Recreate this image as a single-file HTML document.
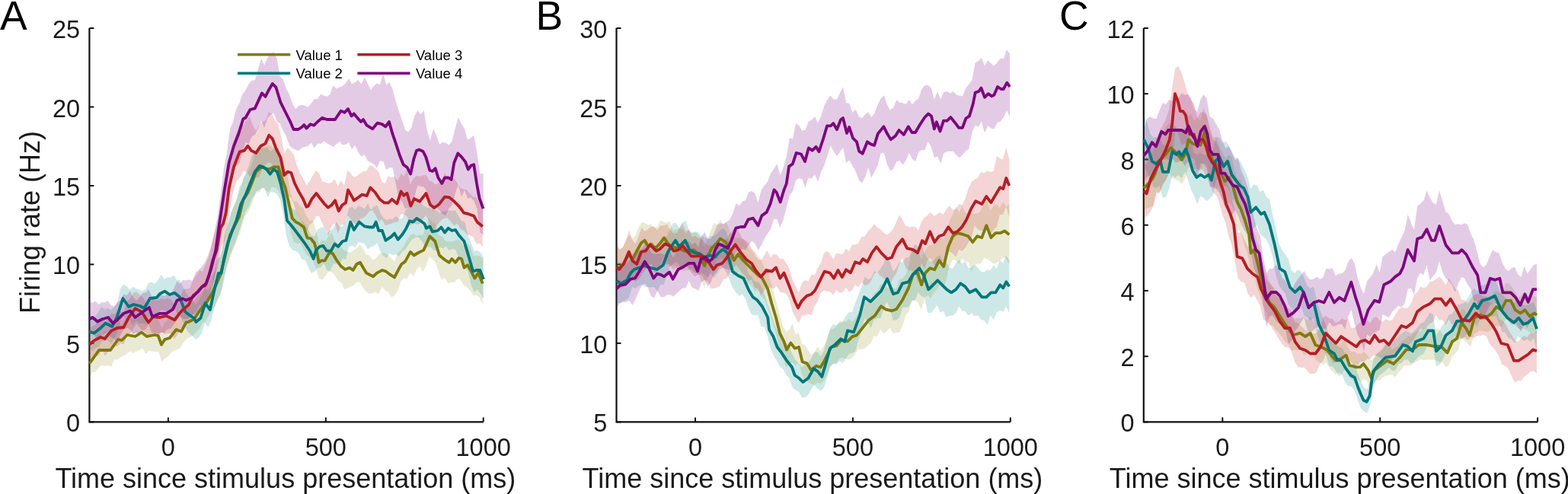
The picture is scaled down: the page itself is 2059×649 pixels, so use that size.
<!DOCTYPE html>
<html><head><meta charset="utf-8"><title>Firing rate figure</title>
<style>
html,body{margin:0;padding:0;background:#fff;}
body{width:2059px;height:649px;overflow:hidden;}
svg{display:block;}
text{font-family:"Liberation Sans",Arial,Helvetica,sans-serif;fill:#1a1a1a;}
.tk{font-size:32.5px;}
.xl{font-size:36px;}
.yl{font-size:36px;}
.pl{font-size:53.5px;fill:#000;}
.lg{font-size:18.5px;fill:#000;}
</style></head><body>
<svg width="2059" height="649" viewBox="0 0 2059 649">
<rect width="2059" height="649" fill="#fff"/>
<path d="M117.4,37 V554.4 H634.7" fill="none" stroke="#111" stroke-width="2.2"/>
<path d="M117.4,554.4 h6" stroke="#111" stroke-width="2"/>
<text x="105.2" y="567.4" text-anchor="end" class="tk">0</text>
<path d="M117.4,450.9 h6" stroke="#111" stroke-width="2"/>
<text x="105.2" y="463.9" text-anchor="end" class="tk">5</text>
<path d="M117.4,347.4 h6" stroke="#111" stroke-width="2"/>
<text x="105.2" y="360.4" text-anchor="end" class="tk">10</text>
<path d="M117.4,244 h6" stroke="#111" stroke-width="2"/>
<text x="105.2" y="257" text-anchor="end" class="tk">15</text>
<path d="M117.4,140.5 h6" stroke="#111" stroke-width="2"/>
<text x="105.2" y="153.5" text-anchor="end" class="tk">20</text>
<path d="M117.4,37 h6" stroke="#111" stroke-width="2"/>
<text x="105.2" y="50" text-anchor="end" class="tk">25</text>
<path d="M220.9,554.4 v-6" stroke="#111" stroke-width="2"/>
<text x="220.9" y="598.6" text-anchor="middle" class="tk">0</text>
<path d="M427.8,554.4 v-6" stroke="#111" stroke-width="2"/>
<text x="427.8" y="598.6" text-anchor="middle" class="tk">500</text>
<path d="M634.7,554.4 v-6" stroke="#111" stroke-width="2"/>
<text x="634.7" y="598.6" text-anchor="middle" class="tk">1000</text>
<text x="72.4" y="641.2" class="xl">Time since stimulus presentation (ms)</text>
<path d="M117.2,456 L121.3,450.7 L125.5,442.1 L129.6,438 L133.7,440.7 L137.9,434.6 L142,439.4 L146.1,434.5 L150.3,431.3 L154.4,419.2 L158.5,426.3 L162.7,418.5 L166.8,420.2 L170.9,416.6 L175.1,419.8 L179.2,419.6 L183.3,416 L187.5,413.4 L191.6,420.8 L195.7,422.7 L199.9,415.6 L204,414.6 L208.1,419.5 L212.3,431.2 L216.4,423.9 L220.5,419.6 L224.7,417 L228.8,416.1 L232.9,409.2 L237.1,413.9 L241.2,408.1 L245.3,402.4 L249.4,397.1 L253.6,397.4 L257.7,392.1 L261.8,385.8 L266,382.4 L270.1,377.2 L274.2,365.1 L278.4,361.2 L282.5,355.3 L286.6,339.7 L290.8,331.1 L294.9,308.5 L299,296.4 L303.2,280.1 L307.3,269.4 L311.4,260 L315.6,248.4 L319.7,233.7 L323.8,227.4 L328,223.1 L332.1,212 L336.2,194.8 L340.4,192.2 L344.5,191.4 L348.6,193.2 L352.8,190.2 L356.9,192.2 L361,195.9 L365.2,194.1 L369.3,208.4 L373.4,215.4 L377.6,232.4 L381.7,254.2 L385.8,265.5 L390,264.5 L394.1,270.6 L398.2,273.2 L402.4,283.5 L406.5,290.2 L410.6,289.1 L414.8,301.1 L418.9,321.5 L423,314.5 L427.2,317.3 L431.3,310.4 L435.4,305.5 L439.6,315.7 L443.7,320.2 L447.8,324 L452,329 L456.1,331.2 L460.2,331.6 L464.4,328.6 L468.5,325.9 L472.6,321 L476.8,326.2 L480.9,334.5 L485,334.9 L489.2,341.4 L493.3,339.6 L497.4,334.4 L501.6,332.1 L505.7,332.8 L509.8,335.7 L513.9,339.3 L518.1,343.6 L522.2,332 L526.3,329.3 L530.5,323 L534.6,315.2 L538.7,308.9 L542.9,307 L547,309.8 L551.1,309.1 L555.3,309.1 L559.4,297.2 L563.5,286.8 L567.7,292.1 L571.8,293 L575.9,309.1 L580.1,310.3 L584.2,315.9 L588.3,317.4 L592.5,317.2 L596.6,316.8 L600.7,314.6 L604.9,316.6 L609,324.3 L613.1,319.2 L617.3,323.4 L621.4,335.4 L625.5,336.6 L629.7,336.2 L633.8,339.6 L633.8,400.4 L629.7,390.7 L625.5,387.7 L621.4,388.6 L617.3,381.8 L613.1,377.3 L609,375 L604.9,367.5 L600.7,366.5 L596.6,370.8 L592.5,370.7 L588.3,372.4 L584.2,364.8 L580.1,367.8 L575.9,357.2 L571.8,344.8 L567.7,340.3 L563.5,337.1 L559.4,349.7 L555.3,357.1 L551.1,349.7 L547,354.3 L542.9,363.4 L538.7,357.9 L534.6,365.9 L530.5,365.6 L526.3,369.9 L522.2,382 L518.1,388.7 L513.9,389.9 L509.8,383.8 L505.7,381.8 L501.6,376.8 L497.4,386.8 L493.3,383.9 L489.2,385 L485,386.6 L480.9,383.2 L476.8,378.4 L472.6,370.4 L468.5,370.8 L464.4,375.2 L460.2,376.6 L456.1,378.8 L452,379.8 L447.8,371 L443.7,368.4 L439.6,361.8 L435.4,357.6 L431.3,356.7 L427.2,363.2 L423,367.6 L418.9,365.9 L414.8,352.6 L410.6,341.2 L406.5,337.8 L402.4,335 L398.2,326.5 L394.1,319.1 L390,320.3 L385.8,317.4 L381.7,305.7 L377.6,279.4 L373.4,271.2 L369.3,257.3 L365.2,250.5 L361,246.2 L356.9,245.3 L352.8,252.7 L348.6,250 L344.5,245.8 L340.4,253.2 L336.2,250.4 L332.1,264.9 L328,274.8 L323.8,281.4 L319.7,287.7 L315.6,305.8 L311.4,313.2 L307.3,325.6 L303.2,335.2 L299,347.4 L294.9,361.8 L290.8,380.2 L286.6,393.3 L282.5,401.8 L278.4,408.7 L274.2,414.1 L270.1,422.6 L266,424.3 L261.8,432.6 L257.7,436 L253.6,441.1 L249.4,443 L245.3,444.9 L241.2,449.6 L237.1,455.9 L232.9,459.2 L228.8,460.4 L224.7,463.6 L220.5,468.2 L216.4,471.3 L212.3,475 L208.1,462.1 L204,462 L199.9,461.7 L195.7,460.4 L191.6,465.1 L187.5,457.7 L183.3,459.9 L179.2,461.6 L175.1,464 L170.9,461.5 L166.8,464.4 L162.7,467.2 L158.5,468.9 L154.4,472.5 L150.3,471.9 L146.1,482.1 L142,480.1 L137.9,480.9 L133.7,480 L129.6,482.9 L125.5,488.9 L121.3,488.7 L117.2,498.1Z" fill="#8a8a10" fill-opacity="0.18" stroke="none"/>
<path d="M117,413 L121.1,417 L125.2,414.9 L129.3,409.8 L133.4,403.1 L137.6,406.5 L141.7,404.8 L145.8,407.2 L149.9,403.5 L154,397.8 L158.1,378.9 L162.2,373.6 L166.3,375.9 L170.4,380.7 L174.6,376.7 L178.7,379.3 L182.8,380.6 L186.9,381.9 L191,380.3 L195.1,371.6 L199.2,370.7 L203.3,372.8 L207.4,367.7 L211.6,360.6 L215.7,367 L219.8,364.3 L223.9,364.4 L228,361.5 L232.1,367.7 L236.2,368 L240.3,377 L244.4,384.8 L248.6,391.2 L252.7,392.6 L256.8,401.1 L260.9,395.6 L265,387.1 L269.1,378.2 L273.2,382 L277.3,374.7 L281.4,355.9 L285.6,339.7 L289.7,337.3 L293.8,316.7 L297.9,296.6 L302,284.2 L306.1,273.1 L310.2,264.7 L314.3,245.9 L318.4,238.8 L322.6,227.6 L326.7,217.9 L330.8,204 L334.9,201.2 L339,192.4 L343.1,194.8 L347.2,194.2 L351.3,194 L355.4,199.2 L359.6,195.3 L363.7,199.3 L367.8,208.6 L371.9,228.8 L376,256.8 L380.1,271.1 L384.2,274.3 L388.3,275.7 L392.4,284.4 L396.6,290.3 L400.7,294.8 L404.8,301.5 L408.9,309.4 L413,310.4 L417.1,301.5 L421.2,299.3 L425.3,298 L429.4,307.1 L433.6,302.4 L437.7,300.2 L441.8,291.3 L445.9,298.2 L450,296.9 L454.1,289.1 L458.2,273.2 L462.3,271.4 L466.4,275.6 L470.6,270.3 L474.7,272 L478.8,274.4 L482.9,267.3 L487,275.7 L491.1,271.3 L495.2,269.8 L499.3,279.5 L503.4,286.3 L507.6,288.9 L511.7,287.7 L515.8,287.7 L519.9,283.9 L524,287.3 L528.1,286.9 L532.2,276.8 L536.3,272.1 L540.4,266 L544.6,267 L548.7,261.2 L552.8,267.2 L556.9,270.5 L561,272.9 L565.1,272.3 L569.2,275.5 L573.3,276.3 L577.4,279.9 L581.6,277.5 L585.7,277.5 L589.8,276.2 L593.9,276.9 L598,276.6 L602.1,284.3 L606.2,290.2 L610.3,291.5 L614.4,307.8 L618.6,319.2 L622.7,329.8 L626.8,328.9 L630.9,331.5 L635,338.1 L635,393 L630.9,385.8 L626.8,380.5 L622.7,383.5 L618.6,374.5 L614.4,356.2 L610.3,349.7 L606.2,338.7 L602.1,337.5 L598,328.3 L593.9,326.7 L589.8,329.1 L585.7,324.1 L581.6,326.5 L577.4,324.5 L573.3,329.5 L569.2,328.8 L565.1,324.3 L561,324.7 L556.9,321.4 L552.8,315.6 L548.7,311.3 L544.6,312.5 L540.4,315.1 L536.3,321.4 L532.2,328.1 L528.1,330.2 L524,336.8 L519.9,333.7 L515.8,335.6 L511.7,332.8 L507.6,339.3 L503.4,336.1 L499.3,330.2 L495.2,318.7 L491.1,323.3 L487,324 L482.9,327.8 L478.8,320 L474.7,318.9 L470.6,318.1 L466.4,325.6 L462.3,322.4 L458.2,324.1 L454.1,340.9 L450,339.9 L445.9,346.9 L441.8,346.5 L437.7,346.6 L433.6,355.9 L429.4,355 L425.3,346.1 L421.2,351.2 L417.1,352 L413,356.7 L408.9,359.1 L404.8,350.7 L400.7,341.8 L396.6,340.8 L392.4,332.8 L388.3,329.5 L384.2,328.7 L380.1,323.4 L376,310.3 L371.9,281.2 L367.8,262.5 L363.7,254.9 L359.6,252.8 L355.4,251.9 L351.3,259.4 L347.2,246.4 L343.1,248.1 L339,249.7 L334.9,256.6 L330.8,260.8 L326.7,271.9 L322.6,278.1 L318.4,291.2 L314.3,302.8 L310.2,316.4 L306.1,325.2 L302,336.2 L297.9,349.2 L293.8,369.1 L289.7,387.2 L285.6,393.2 L281.4,404.5 L277.3,420.8 L273.2,430.4 L269.1,423.6 L265,437.5 L260.9,443.9 L256.8,445.7 L252.7,441.1 L248.6,438.2 L244.4,431.9 L240.3,423 L236.2,414.2 L232.1,411.2 L228,403.2 L223.9,408.8 L219.8,410.7 L215.7,407.9 L211.6,406.8 L207.4,412.8 L203.3,416 L199.2,413.7 L195.1,417.1 L191,425.9 L186.9,424.9 L182.8,425.1 L178.7,422.3 L174.6,427.8 L170.4,420.9 L166.3,421.6 L162.2,415.3 L158.1,423.8 L154,437.5 L149.9,445.3 L145.8,451.2 L141.7,447.3 L137.6,447.7 L133.4,448.7 L129.3,456 L125.2,457.6 L121.1,461.2 L117,456Z" fill="#0a8c8c" fill-opacity="0.2" stroke="none"/>
<path d="M117.2,432 L121.3,428.4 L125.5,426.7 L129.6,418.9 L133.7,418.4 L137.9,421.7 L142,419.5 L146.1,411.6 L150.3,412.9 L154.4,406.9 L158.5,409.5 L162.7,409.7 L166.8,395.2 L170.9,392.5 L175.1,384.4 L179.2,383.2 L183.3,387.2 L187.5,390.4 L191.6,396.6 L195.7,398.7 L199.9,392.7 L204,395.3 L208.1,393.9 L212.3,392.6 L216.4,393.4 L220.5,391.7 L224.7,393.4 L228.8,400.3 L232.9,394.6 L237.1,389.1 L241.2,379.9 L245.3,379.5 L249.4,378.7 L253.6,367.3 L257.7,362.2 L261.8,354.8 L266,356.8 L270.1,346.5 L274.2,337.3 L278.4,318.4 L282.5,304.4 L286.6,288.8 L290.8,266.9 L294.9,257.5 L299,226.2 L303.2,203.7 L307.3,184.6 L311.4,172.4 L315.6,169 L319.7,164.5 L323.8,157.7 L328,153.1 L332.1,165.5 L336.2,171.7 L340.4,163.7 L344.5,159.9 L348.6,158 L352.8,147.4 L356.9,149 L361,158.2 L365.2,162.4 L369.3,179.8 L373.4,202 L377.6,194.1 L381.7,198.3 L385.8,203.3 L390,217.5 L394.1,227.9 L398.2,234.5 L402.4,243.2 L406.5,238.3 L410.6,230.5 L414.8,223.9 L418.9,227.6 L423,238.2 L427.2,239.6 L431.3,240.9 L435.4,239.7 L439.6,235.5 L443.7,244.5 L447.8,237.3 L452,243.2 L456.1,223.4 L460.2,227.7 L464.4,232.5 L468.5,231.2 L472.6,228.2 L476.8,225.3 L480.9,225.1 L485,217.8 L489.2,217.8 L493.3,221.5 L497.4,226.6 L501.6,239.1 L505.7,241.2 L509.8,231.2 L513.9,233.1 L518.1,231.9 L522.2,237.6 L526.3,228 L530.5,231.2 L534.6,222.7 L538.7,243.1 L542.9,234 L547,231.1 L551.1,231.8 L555.3,230.6 L559.4,230.1 L563.5,237 L567.7,238.9 L571.8,242.6 L575.9,240.5 L580.1,237.8 L584.2,227.1 L588.3,234.8 L592.5,234.8 L596.6,234.4 L600.7,240.9 L604.9,247.3 L609,248.5 L613.1,249.7 L617.3,254.4 L621.4,258.8 L625.5,259.2 L629.7,267.4 L633.8,271.6 L633.8,324.6 L629.7,319.4 L625.5,320.5 L621.4,311.8 L617.3,309.1 L613.1,308 L609,303.1 L604.9,301.2 L600.7,293.8 L596.6,296.6 L592.5,291.9 L588.3,286.4 L584.2,286.6 L580.1,288.7 L575.9,293.6 L571.8,299.5 L567.7,305.7 L563.5,291 L559.4,283 L555.3,287.8 L551.1,294.4 L547,294.6 L542.9,292.8 L538.7,297 L534.6,284.6 L530.5,281.2 L526.3,281.6 L522.2,291.8 L518.1,291.7 L513.9,294.1 L509.8,294.9 L505.7,296.3 L501.6,288.1 L497.4,291.3 L493.3,282.9 L489.2,276.2 L485,277.6 L480.9,282.7 L476.8,286.2 L472.6,287.6 L468.5,295.7 L464.4,292.4 L460.2,287.8 L456.1,282.8 L452,295 L447.8,295.3 L443.7,307.5 L439.6,293 L435.4,296.7 L431.3,309.8 L427.2,301.5 L423,292.9 L418.9,283.5 L414.8,284.6 L410.6,292.1 L406.5,296 L402.4,305.4 L398.2,295.2 L394.1,288 L390,280.7 L385.8,268 L381.7,259.3 L377.6,256.4 L373.4,261.3 L369.3,243.5 L365.2,234.2 L361,224.2 L356.9,215.2 L352.8,213.1 L348.6,216.6 L344.5,221.3 L340.4,232.7 L336.2,233.9 L332.1,231 L328,231.6 L323.8,225.6 L319.7,224.9 L315.6,232.2 L311.4,237.3 L307.3,248.5 L303.2,265.7 L299,293.9 L294.9,316.5 L290.8,323.4 L286.6,348.6 L282.5,362.9 L278.4,373.2 L274.2,388.4 L270.1,396.6 L266,402.4 L261.8,400.6 L257.7,409.3 L253.6,413 L249.4,420.2 L245.3,426.5 L241.2,426.8 L237.1,431.6 L232.9,440.1 L228.8,445.6 L224.7,438.9 L220.5,437.6 L216.4,439.3 L212.3,436 L208.1,441 L204,441.1 L199.9,439.2 L195.7,444.4 L191.6,437.3 L187.5,435.1 L183.3,429.9 L179.2,425.6 L175.1,432.1 L170.9,438 L166.8,440.1 L162.7,452.4 L158.5,450.9 L154.4,454.8 L150.3,455.8 L146.1,454.9 L142,462.5 L137.9,467.8 L133.7,459.2 L129.6,467.2 L125.5,467.4 L121.3,474.1 L117.2,476.6Z" fill="#c8282d" fill-opacity="0.2" stroke="none"/>
<path d="M117.2,395.7 L121.3,398 L125.4,395.4 L129.5,400.2 L133.6,396.9 L137.7,397.6 L141.8,395 L145.9,401.4 L150.1,402 L154.2,397.1 L158.3,394.3 L162.4,386.2 L166.5,388 L170.6,381.9 L174.7,389.9 L178.8,394.9 L182.9,391 L187,384.9 L191.1,384.4 L195.2,380.3 L199.3,389.7 L203.4,390.2 L207.5,389.3 L211.6,387 L215.8,389 L219.9,386.3 L224,385.9 L228.1,380 L232.2,369.4 L236.3,372.5 L240.4,367.8 L244.5,368.4 L248.6,367.3 L252.7,369.2 L256.8,357.9 L260.9,355 L265,350.5 L269.1,344.2 L273.2,335.6 L277.3,323.3 L281.5,305.3 L285.6,284.8 L289.7,255.6 L293.8,222.6 L297.9,201 L302,169.4 L306.1,160.1 L310.2,142.7 L314.3,135.8 L318.4,124 L322.5,118.6 L326.6,110.6 L330.7,106.1 L334.8,105.1 L338.9,91.2 L343,76.6 L347.2,85.8 L351.3,75.9 L355.4,70.9 L359.5,67.7 L363.6,76.6 L367.7,100.4 L371.8,104.5 L375.9,116.6 L380,124.4 L384.1,136 L388.2,143.3 L392.3,139 L396.4,137.7 L400.5,139.1 L404.6,140.6 L408.8,135.7 L412.9,129.9 L417,130.3 L421.1,123.6 L425.2,125.6 L429.3,126.7 L433.4,123.9 L437.5,111.9 L441.6,116.6 L445.7,114.6 L449.8,112.9 L453.9,109.5 L458,103.1 L462.1,110.3 L466.2,108.3 L470.3,105 L474.5,110.6 L478.6,101.5 L482.7,109.6 L486.8,118 L490.9,112.9 L495,109.6 L499.1,111 L503.2,96.1 L507.3,111.8 L511.4,108 L515.5,117 L519.6,133.3 L523.7,145.5 L527.8,157.8 L531.9,170.3 L536,173.5 L540.2,167.8 L544.3,152.2 L548.4,145.2 L552.5,150.4 L556.6,145.3 L560.7,170.5 L564.8,184.8 L568.9,169.2 L573,177.6 L577.1,189.7 L581.2,187 L585.3,187.7 L589.4,190.6 L593.5,185.5 L597.6,169.2 L601.7,154 L605.9,162.4 L610,169.3 L614.1,184 L618.2,181.2 L622.3,177.5 L626.4,201.3 L630.5,228.6 L634.6,228 L634.6,308.8 L630.5,305.4 L626.4,274.5 L622.3,263.7 L618.2,259.5 L614.1,260.7 L610,250 L605.9,258.6 L601.7,242.4 L597.6,255.3 L593.5,269.8 L589.4,274.1 L585.3,283 L581.2,281.2 L577.1,276.7 L573,272.3 L568.9,277.1 L564.8,266 L560.7,252.1 L556.6,245.5 L552.5,245 L548.4,243.4 L544.3,259.2 L540.2,270.6 L536,272.6 L531.9,274.6 L527.8,264.4 L523.7,260.7 L519.6,240.5 L515.5,220.6 L511.4,220 L507.3,222.9 L503.2,212.1 L499.1,211.4 L495,220.8 L490.9,216 L486.8,213.6 L482.7,211.2 L478.6,203.3 L474.5,205.8 L470.3,200.1 L466.2,190.5 L462.1,196.3 L458,186.9 L453.9,190.1 L449.8,190.2 L445.7,185.8 L441.6,189.6 L437.5,193.1 L433.4,190.2 L429.3,188.3 L425.2,185.5 L421.1,188.9 L417,188.4 L412.9,194.5 L408.8,187.7 L404.6,191.4 L400.5,192.9 L396.4,193.9 L392.3,198.2 L388.2,196.7 L384.1,194.9 L380,191 L375.9,179.3 L371.8,171.9 L367.7,162.1 L363.6,159.8 L359.5,148.5 L355.4,150.6 L351.3,154.8 L347.2,167.9 L343,159 L338.9,168.8 L334.8,177 L330.7,179.4 L326.6,189.4 L322.5,186.4 L318.4,201 L314.3,214.3 L310.2,218.3 L306.1,224 L302,245.7 L297.9,267.8 L293.8,290.3 L289.7,317.6 L285.6,339.5 L281.5,370 L277.3,385 L273.2,394.5 L269.1,398.4 L265,401.9 L260.9,409.5 L256.8,412.7 L252.7,414.6 L248.6,417.6 L244.5,419.2 L240.4,418.7 L236.3,415.2 L232.2,420.7 L228.1,426.6 L224,432.1 L219.9,432.6 L215.8,437 L211.6,436.9 L207.5,438.2 L203.4,437.8 L199.3,437.1 L195.2,426.4 L191.1,433 L187,433.7 L182.9,438.5 L178.8,437 L174.7,438.8 L170.6,432.4 L166.5,430.7 L162.4,432.9 L158.3,440.3 L154.2,448.4 L150.1,445.4 L145.9,443.3 L141.8,436.3 L137.7,438.1 L133.6,440.6 L129.5,445.6 L125.4,442.8 L121.3,438.1 L117.2,440.7Z" fill="#85108a" fill-opacity="0.22" stroke="none"/>
<path d="M117.2,477.6 L121.5,472 L130,460 L145,460 L155,446 L160,447 L167,440 L177.5,442 L186,436.6 L192.6,442 L203.4,440 L207.7,441 L212,452.8 L216.3,446 L222.8,444 L231.4,433 L238,435.5 L244.4,423.6 L247.4,423 L254.8,419.3 L262.2,408.2 L272,396 L279.5,383.5 L289.3,361.4 L295.5,336.7 L301.7,309.6 L306.6,299.7 L314,285 L319.3,262.6 L325.4,253.3 L331.6,238 L336.2,225.6 L343.9,219.4 L348.5,221 L353.2,222.5 L359.3,219.4 L365.5,219.4 L370,234.8 L374.7,247 L379.2,267 L383.9,287 L388.5,291.6 L393.1,294 L398.9,298.5 L403.5,312.4 L408.2,313.5 L412.8,319.3 L416.2,331 L418.6,344.8 L422,342.4 L426.6,342.4 L432.4,332 L437,333.2 L441.7,341.3 L447.5,349.4 L453.2,354 L459,351.7 L463.6,355 L468.3,347 L472.9,344.8 L477.5,352.8 L481,358.6 L485.6,361 L490.2,363.2 L494.9,358.6 L501.8,355 L506.4,356.3 L511,359.8 L518,364.4 L524,352.8 L527.3,347 L532,343.6 L539,330.9 L543.5,335.5 L549.3,332 L556.3,328.6 L564.4,310.5 L571.3,317 L577,335.5 L584,341.3 L589.8,344.8 L593.3,340 L598,344.8 L602.5,339 L606,340 L609.5,351.7 L614,348.2 L618.7,356.3 L623.4,365.6 L628,358.6 L633.8,372.5" fill="none" stroke="#7f7a0c" stroke-width="3.8" stroke-linejoin="round" stroke-linecap="butt"/>
<path d="M117,435.5 L123.6,437.7 L132,431 L138.7,424.7 L147.3,429 L153.8,416 L161.4,392 L169,403 L175.4,400 L184,402 L189.4,405 L197,392 L205.6,391 L209.9,386 L216.3,382.6 L222.8,387 L229.3,384.8 L235.7,390 L243.3,409.6 L247.4,413 L254.8,418 L257.3,423 L263.4,418 L269.6,398.3 L275.8,407 L282,378.6 L286.9,358.9 L290.6,358.9 L294.3,339 L299.2,319.4 L305.4,302 L310.3,289.9 L316.2,268.7 L322.4,256.4 L328.5,241 L334.7,225.6 L340.8,217.9 L345.5,219.4 L350,222.5 L354.7,228.7 L359.3,222.5 L364,225.6 L368.5,241 L373.2,262 L377,290 L381.6,295 L386.2,300.8 L393.1,310 L400,319.3 L407,329.7 L411.6,340 L415,328.6 L419.7,324 L424.3,322.8 L429,329.7 L434.7,329.7 L439.4,320.5 L444,324 L449.8,317 L454.4,315.9 L460.2,291.6 L464.8,302 L471.7,291.6 L478.7,297.4 L485.6,298.5 L490.2,298.5 L493.7,291.6 L497.2,303 L501.8,303 L506.4,315.9 L513.5,311.2 L518,306.6 L522.7,314.7 L528.5,307.8 L533,300.8 L537.8,290.4 L542.4,291.6 L547,287 L552.8,290.4 L557.4,294 L559.7,299.7 L564.4,297.4 L567.8,304.3 L574.8,303 L579.4,298.5 L584,305.5 L588.6,299.7 L593.3,303 L598,302 L602.5,309 L609.5,317 L613,328.6 L616.4,340 L621,356.3 L625.7,355 L630.3,355 L635,366.7" fill="none" stroke="#00777a" stroke-width="3.8" stroke-linejoin="round" stroke-linecap="butt"/>
<path d="M117.2,452.8 L123.6,447.4 L132.2,443 L137.6,445 L146.3,434.4 L153.8,431 L162.4,430 L169,417 L177.5,405.3 L186,409.6 L194.8,423.6 L201.2,416 L209.9,417 L218.5,415 L229.3,420.4 L235.7,411.8 L240,407 L247.4,400.8 L253.6,388.5 L259.7,383.5 L264.7,377.4 L269.6,375 L274.5,361.4 L279.5,341.6 L284.4,329.3 L286.9,314.5 L289.3,299.7 L293,294 L296.7,280 L300.8,247 L307,219.4 L314.7,199.4 L320.8,197.9 L325.4,191.7 L330,197.9 L336.2,201 L342.4,191.7 L348.5,188.6 L353.2,177.8 L357.8,182.4 L362.4,194.8 L368.5,207 L373.2,230.2 L377.8,225.6 L382.4,227 L387,241 L393.2,253.3 L397.8,261 L402.4,271.8 L404.6,271 L409.2,261.8 L415.4,254 L420,260.2 L426.2,268 L430.8,272.6 L435.4,269.5 L440,263.3 L444.7,277.2 L449.3,269.5 L454,266.4 L457,249.5 L461.6,257.2 L464.7,263.3 L469.3,260.2 L475.5,255.6 L481.6,257.2 L486.3,246.4 L492.4,252.5 L498.6,261.8 L504.7,266.4 L510,266.5 L514.8,261.8 L521.3,267.6 L526.6,251.5 L530.3,256.8 L534.5,253.9 L539.3,270.6 L544,261.1 L551.2,264.7 L559.5,254 L564.9,268.9 L570.2,273 L576.8,268.2 L584,258.7 L590,259.3 L595.9,264.1 L603.1,271.3 L609.1,279.6 L616.2,281.4 L622.2,283.7 L626.4,291.4 L633.8,297.4" fill="none" stroke="#b31e24" stroke-width="3.8" stroke-linejoin="round" stroke-linecap="butt"/>
<path d="M117.2,419.3 L121.5,417 L128,422.5 L134.4,419.3 L142,417 L148.4,424.7 L153.8,420.4 L162.4,411.8 L171,408.5 L177.5,417 L186,410.7 L195.9,404 L200,416 L209.9,411.8 L218.5,411.8 L227,406.4 L232.5,394.5 L240,392.4 L244.4,394.5 L252.3,391 L259.7,383.5 L266,376 L270.8,372.5 L277,354 L280.7,339 L283.2,329.3 L285.6,312 L288.3,292 L294.6,250.2 L300.8,213.3 L307,191.7 L313.1,176.3 L319.3,156.3 L322.4,154.7 L328.5,144 L334.7,142.4 L343.9,122.4 L348.5,127 L353.2,117.7 L357.8,110 L362.4,114.7 L368.5,134.7 L374.7,147 L380.9,159.3 L385.5,170 L391.7,170 L396.3,167 L399.3,164 L402.4,168.6 L407.7,163.2 L412.3,164.7 L417,160 L423,154.9 L429.3,157 L440,157 L447.7,145.6 L452.4,147.8 L457,143.1 L461.6,152.4 L464.7,149.3 L469.3,154.9 L474,160 L477,157 L481.6,164.7 L489.3,169.3 L495.5,161.6 L501.7,163.2 L506.3,166.3 L511,160 L515,174.4 L520,189.2 L524.8,204 L529.7,216.3 L534.7,220 L539.1,228.6 L543.3,208.9 L547,197.8 L550.7,196.6 L555.6,199 L559.3,206.4 L564.3,223.7 L568,225 L571.7,221.2 L575.4,233.5 L580.3,241 L584,233.5 L589,233.5 L592.6,236 L596.3,213.8 L601.3,201.5 L606.2,206.4 L611.1,212.6 L614.8,222.5 L618.5,217.5 L622.2,216.3 L626,241 L629.6,260.7 L634.6,274.2" fill="none" stroke="#7d067e" stroke-width="3.8" stroke-linejoin="round" stroke-linecap="butt"/>
<path d="M809.5,37 V554.4 H1326.8" fill="none" stroke="#111" stroke-width="2.2"/>
<path d="M809.5,554.4 h6" stroke="#111" stroke-width="2"/>
<text x="797.3" y="567.4" text-anchor="end" class="tk">5</text>
<path d="M809.5,450.9 h6" stroke="#111" stroke-width="2"/>
<text x="797.3" y="463.9" text-anchor="end" class="tk">10</text>
<path d="M809.5,347.4 h6" stroke="#111" stroke-width="2"/>
<text x="797.3" y="360.4" text-anchor="end" class="tk">15</text>
<path d="M809.5,244 h6" stroke="#111" stroke-width="2"/>
<text x="797.3" y="257" text-anchor="end" class="tk">20</text>
<path d="M809.5,140.5 h6" stroke="#111" stroke-width="2"/>
<text x="797.3" y="153.5" text-anchor="end" class="tk">25</text>
<path d="M809.5,37 h6" stroke="#111" stroke-width="2"/>
<text x="797.3" y="50" text-anchor="end" class="tk">30</text>
<path d="M913,554.4 v-6" stroke="#111" stroke-width="2"/>
<text x="913" y="598.6" text-anchor="middle" class="tk">0</text>
<path d="M1119.9,554.4 v-6" stroke="#111" stroke-width="2"/>
<text x="1119.9" y="598.6" text-anchor="middle" class="tk">500</text>
<path d="M1326.8,554.4 v-6" stroke="#111" stroke-width="2"/>
<text x="1326.8" y="598.6" text-anchor="middle" class="tk">1000</text>
<text x="764.5" y="641.2" class="xl">Time since stimulus presentation (ms)</text>
<path d="M809.6,322.4 L813.7,328.2 L817.9,323.9 L822,317.2 L826.1,308 L830.2,312.9 L834.4,309.5 L838.5,299.2 L842.6,292.1 L846.7,292.7 L850.9,295.4 L855,294.6 L859.1,298.9 L863.2,297.9 L867.4,289.3 L871.5,291.9 L875.6,292.2 L879.7,290.7 L883.9,303 L888,300.9 L892.1,300.1 L896.2,301.1 L900.4,306.8 L904.5,302.7 L908.6,306.5 L912.7,305 L916.9,308.7 L921,313.9 L925.1,324.1 L929.2,313.7 L933.4,302.7 L937.5,292.2 L941.6,295.8 L945.7,288.8 L949.9,295.2 L954,291.9 L958.1,302.1 L962.2,311 L966.4,312.7 L970.5,313 L974.6,313.6 L978.7,318 L982.9,325.5 L987,328.5 L991.1,335.4 L995.3,340.8 L999.4,340.9 L1003.5,351.6 L1007.6,353.6 L1011.8,369.1 L1015.9,384.1 L1020,398.5 L1024.1,413.9 L1028.3,428.7 L1032.4,435.8 L1036.5,433.3 L1040.6,425.2 L1044.8,439.4 L1048.9,436.8 L1053,451.9 L1057.1,453.6 L1061.3,460.4 L1065.4,466.5 L1069.5,463 L1073.6,455.2 L1077.8,461.1 L1081.9,454.5 L1086,446.3 L1090.1,432.6 L1094.3,432.2 L1098.4,428.6 L1102.5,421.7 L1106.6,422.3 L1110.8,422.7 L1114.9,418.7 L1119,422.7 L1123.1,418 L1127.3,410.5 L1131.4,405.5 L1135.5,396.8 L1139.6,395.2 L1143.8,392.8 L1147.9,384.9 L1152,382.9 L1156.2,373.7 L1160.3,373.7 L1164.4,377.5 L1168.5,378.6 L1172.7,377.4 L1176.8,379.8 L1180.9,367.4 L1185,366 L1189.2,361 L1193.3,349.7 L1197.4,329.6 L1201.5,326.5 L1205.7,328 L1209.8,341.4 L1213.9,331 L1218,323.8 L1222.2,321.8 L1226.3,321.3 L1230.4,318.7 L1234.5,312.6 L1238.7,314.1 L1242.8,306.4 L1246.9,290.1 L1251,282.2 L1255.2,270.8 L1259.3,280 L1263.4,270.8 L1267.5,279.2 L1271.7,280 L1275.8,279.6 L1279.9,280.7 L1284,280.5 L1288.2,276.7 L1292.3,263.2 L1296.4,264.5 L1300.5,276.8 L1304.7,270.3 L1308.8,268.5 L1312.9,273.2 L1317,264.9 L1321.2,271.7 L1325.3,268.1 L1325.3,347.3 L1321.2,339.7 L1317,338.4 L1312.9,342.7 L1308.8,345.7 L1304.7,346.8 L1300.5,343.3 L1296.4,340.4 L1292.3,338.4 L1288.2,346.2 L1284,346.6 L1279.9,347.8 L1275.8,357.6 L1271.7,344.5 L1267.5,343.6 L1263.4,339.7 L1259.3,347.1 L1255.2,342.1 L1251,341.1 L1246.9,350 L1242.8,366.7 L1238.7,379.8 L1234.5,374.2 L1230.4,380.4 L1226.3,384.3 L1222.2,392 L1218,387.8 L1213.9,392.2 L1209.8,407.3 L1205.7,397.7 L1201.5,394.1 L1197.4,395.5 L1193.3,409.2 L1189.2,414.2 L1185,429.2 L1180.9,436.5 L1176.8,436.9 L1172.7,437.9 L1168.5,430.9 L1164.4,434.9 L1160.3,439.1 L1156.2,432.7 L1152,442.3 L1147.9,441 L1143.8,450.6 L1139.6,454.1 L1135.5,457.7 L1131.4,459.1 L1127.3,458.5 L1123.1,464.9 L1119,470.2 L1114.9,472.7 L1110.8,471.8 L1106.6,469.7 L1102.5,471.2 L1098.4,477.8 L1094.3,477.7 L1090.1,481.1 L1086,492 L1081.9,500.1 L1077.8,504.1 L1073.6,502.7 L1069.5,505.4 L1065.4,504.4 L1061.3,501.8 L1057.1,498.4 L1053,492.8 L1048.9,475.5 L1044.8,480.2 L1040.6,476.1 L1036.5,477.4 L1032.4,482.3 L1028.3,470.2 L1024.1,462.4 L1020,443.1 L1015.9,428.3 L1011.8,415.7 L1007.6,402.5 L1003.5,392.9 L999.4,389.1 L995.3,381.3 L991.1,382.4 L987,374.9 L982.9,372.4 L978.7,371.1 L974.6,365.5 L970.5,356.4 L966.4,361.8 L962.2,362.1 L958.1,349 L954,345.9 L949.9,340.1 L945.7,339.4 L941.6,343.3 L937.5,349.7 L933.4,353.4 L929.2,365.4 L925.1,377 L921,369.8 L916.9,359.3 L912.7,358.6 L908.6,351.6 L904.5,355 L900.4,355.4 L896.2,356.3 L892.1,349.8 L888,350.2 L883.9,347.9 L879.7,350.6 L875.6,342.9 L871.5,336 L867.4,347.1 L863.2,352.7 L859.1,352.1 L855,346.5 L850.9,353.1 L846.7,340 L842.6,348.4 L838.5,350.9 L834.4,358.5 L830.2,366.8 L826.1,364.4 L822,368.5 L817.9,379.2 L813.7,378 L809.6,378.1Z" fill="#8a8a10" fill-opacity="0.18" stroke="none"/>
<path d="M809.6,342.9 L813.7,344.6 L817.9,346.7 L822,341.3 L826.1,337.8 L830.2,332.9 L834.4,331.2 L838.5,327.4 L842.6,329.7 L846.7,325.3 L850.9,327.6 L855,326.7 L859.1,328.2 L863.2,329.8 L867.4,324.3 L871.5,315.4 L875.6,310.2 L879.7,301.9 L883.9,293 L888,293.6 L892.1,299.2 L896.2,291.9 L900.4,289.9 L904.5,301.8 L908.6,305.9 L912.7,304.1 L916.9,305.4 L921,310.1 L925.1,311.6 L929.2,313.8 L933.4,310 L937.5,310.5 L941.6,307 L945.7,302.5 L949.9,300.3 L954,304.5 L958.1,320.8 L962.2,333.1 L966.4,333.8 L970.5,335.9 L974.6,343.1 L978.7,343.9 L982.9,360 L987,363.5 L991.1,370 L995.3,370.4 L999.4,375.4 L1003.5,383.7 L1007.6,398.7 L1011.8,410.8 L1015.9,422.6 L1020,433.1 L1024.1,440.7 L1028.3,448 L1032.4,450.5 L1036.5,455.2 L1040.6,465.7 L1044.8,473.8 L1048.9,476.4 L1053,483 L1057.1,478.1 L1061.3,476.6 L1065.4,470.6 L1069.5,462.5 L1073.6,462.6 L1077.8,468.1 L1081.9,460.4 L1086,444.5 L1090.1,432 L1094.3,425.7 L1098.4,427.2 L1102.5,424.2 L1106.6,423 L1110.8,415.1 L1114.9,409.9 L1119,410.3 L1123.1,398.1 L1127.3,386.6 L1131.4,377.6 L1135.5,363.4 L1139.6,366.9 L1143.8,365.6 L1147.9,356.1 L1152,358.3 L1156.2,353.1 L1160.3,346.3 L1164.4,334.1 L1168.5,343.7 L1172.7,356.2 L1176.8,352.4 L1180.9,344.4 L1185,344.3 L1189.2,338.9 L1193.3,338 L1197.4,329.1 L1201.5,320.2 L1205.7,324.4 L1209.8,320.7 L1213.9,333.1 L1218,339.8 L1222.2,343.7 L1226.3,342.5 L1230.4,337 L1234.5,335.6 L1238.7,344.2 L1242.8,344.3 L1246.9,351.7 L1251,353.1 L1255.2,345.6 L1259.3,340.7 L1263.4,346.4 L1267.5,342.9 L1271.7,352.3 L1275.8,351.5 L1279.9,347.5 L1284,351.4 L1288.2,356.8 L1292.3,357.4 L1296.4,353.9 L1300.5,355.4 L1304.7,348.2 L1308.8,353.3 L1312.9,341.8 L1317,345.8 L1321.2,335.3 L1325.3,342.6 L1325.3,411.6 L1321.2,402.4 L1317,410 L1312.9,407.4 L1308.8,410.3 L1304.7,420.3 L1300.5,414.3 L1296.4,427.1 L1292.3,421.1 L1288.2,420.1 L1284,414.6 L1279.9,415.4 L1275.8,411.2 L1271.7,414.7 L1267.5,409.1 L1263.4,408.7 L1259.3,402.3 L1255.2,411.2 L1251,414.5 L1246.9,414.7 L1242.8,417 L1238.7,408.8 L1234.5,410.4 L1230.4,401 L1226.3,406.4 L1222.2,411.2 L1218,410.4 L1213.9,390.8 L1209.8,389 L1205.7,384.1 L1201.5,394.7 L1197.4,394.7 L1193.3,403.5 L1189.2,403.7 L1185,404.6 L1180.9,418.1 L1176.8,420.2 L1172.7,420.9 L1168.5,404.5 L1164.4,396.4 L1160.3,406.5 L1156.2,418.2 L1152,418.2 L1147.9,419.5 L1143.8,430.9 L1139.6,423.7 L1135.5,417.5 L1131.4,434.5 L1127.3,446.7 L1123.1,461.7 L1119,463.7 L1114.9,464.9 L1110.8,471 L1106.6,477.3 L1102.5,474 L1098.4,478.3 L1094.3,477.7 L1090.1,482.1 L1086,496.4 L1081.9,509.6 L1077.8,513.2 L1073.6,510.8 L1069.5,506 L1065.4,511.4 L1061.3,518.7 L1057.1,521.9 L1053,522.3 L1048.9,514.6 L1044.8,512.6 L1040.6,509.4 L1036.5,496.7 L1032.4,492.7 L1028.3,484.9 L1024.1,482 L1020,473.7 L1015.9,467.3 L1011.8,457.6 L1007.6,440 L1003.5,429.5 L999.4,428.9 L995.3,413.6 L991.1,414.4 L987,413.2 L982.9,404.9 L978.7,392.6 L974.6,386.1 L970.5,389 L966.4,384.4 L962.2,378.5 L958.1,368.2 L954,358 L949.9,350.9 L945.7,354 L941.6,360.1 L937.5,364.9 L933.4,359.5 L929.2,365.3 L925.1,360.5 L921,358.2 L916.9,360.6 L912.7,357.9 L908.6,355.9 L904.5,352.7 L900.4,344.1 L896.2,351.9 L892.1,348.2 L888,343.5 L883.9,347.1 L879.7,350 L875.6,361.9 L871.5,374.3 L867.4,373.4 L863.2,382.8 L859.1,376.9 L855,377.4 L850.9,377 L846.7,376.5 L842.6,373.4 L838.5,376.1 L834.4,379.3 L830.2,377.1 L826.1,391 L822,394.3 L817.9,395.4 L813.7,398.6 L809.6,397.2Z" fill="#0a8c8c" fill-opacity="0.2" stroke="none"/>
<path d="M809.6,320.3 L813.7,327.5 L817.9,325.4 L822,314.4 L826.1,302.5 L830.2,315.2 L834.4,320.3 L838.5,310.6 L842.6,298.7 L846.7,304 L850.9,301.3 L855,297.8 L859.1,297.8 L863.2,302.7 L867.4,296.2 L871.5,296.5 L875.6,294.5 L879.7,301.3 L883.9,306.2 L888,306.8 L892.1,299.9 L896.2,293.4 L900.4,303.8 L904.5,301.5 L908.6,311.4 L912.7,309.4 L916.9,312.9 L921,312.1 L925.1,318.7 L929.2,321.7 L933.4,322 L937.5,328.5 L941.6,319.8 L945.7,319.9 L949.9,317.3 L954,313.9 L958.1,307.4 L962.2,301.4 L966.4,300 L970.5,304.6 L974.6,313.2 L978.7,315.6 L982.9,318.7 L987,326.5 L991.1,330.4 L995.3,337.4 L999.4,342 L1003.5,335.8 L1007.6,328.7 L1011.8,338.4 L1015.9,333.4 L1020,334.4 L1024.1,340.3 L1028.3,339.8 L1032.4,345.8 L1036.5,353 L1040.6,367.4 L1044.8,375.7 L1048.9,384.2 L1053,372 L1057.1,368 L1061.3,370 L1065.4,360.7 L1069.5,361.6 L1073.6,352.5 L1077.8,346.1 L1081.9,332.7 L1086,329.6 L1090.1,334 L1094.3,340.6 L1098.4,332.2 L1102.5,333.8 L1106.6,333.9 L1110.8,326.6 L1114.9,330.2 L1119,321.5 L1123.1,321.8 L1127.3,319.5 L1131.4,311.1 L1135.5,310.7 L1139.6,304.1 L1143.8,299.8 L1147.9,294.3 L1152,298.8 L1156.2,301.6 L1160.3,305.7 L1164.4,308.6 L1168.5,305.9 L1172.7,300.8 L1176.8,291.9 L1180.9,282.5 L1185,288.4 L1189.2,296.8 L1193.3,297.9 L1197.4,298.2 L1201.5,297.8 L1205.7,302.6 L1209.8,292 L1213.9,285.8 L1218,282.9 L1222.2,278.7 L1226.3,284.2 L1230.4,281.5 L1234.5,278.9 L1238.7,281.8 L1242.8,275 L1246.9,269.9 L1251,275.9 L1255.2,274.7 L1259.3,267.9 L1263.4,269.4 L1267.5,261 L1271.7,247.4 L1275.8,238.9 L1279.9,235.7 L1284,233.5 L1288.2,226.1 L1292.3,227.2 L1296.4,224.4 L1300.5,226.3 L1304.7,224.5 L1308.8,204.9 L1312.9,208.1 L1317,209.6 L1321.2,193.7 L1325.3,209 L1325.3,286 L1321.2,271.3 L1317,282 L1312.9,282.1 L1308.8,297.8 L1304.7,301.5 L1300.5,309.1 L1296.4,294.6 L1292.3,303 L1288.2,303.1 L1284,301.4 L1279.9,296.3 L1275.8,311.8 L1271.7,319.1 L1267.5,325.6 L1263.4,330 L1259.3,327.7 L1255.2,337.6 L1251,333 L1246.9,330.2 L1242.8,334.7 L1238.7,343 L1234.5,344.7 L1230.4,349.1 L1226.3,348 L1222.2,339.2 L1218,340.8 L1213.9,353.5 L1209.8,344.9 L1205.7,371.9 L1201.5,359.1 L1197.4,355.6 L1193.3,355.3 L1189.2,351.7 L1185,338.9 L1180.9,347.6 L1176.8,359.9 L1172.7,365 L1168.5,375 L1164.4,367.4 L1160.3,365.8 L1156.2,362.6 L1152,357.4 L1147.9,359.5 L1143.8,369.6 L1139.6,373.8 L1135.5,375.2 L1131.4,370.5 L1127.3,377.6 L1123.1,373.9 L1119,380.9 L1114.9,383.4 L1110.8,377.8 L1106.6,384.1 L1102.5,384.8 L1098.4,380.7 L1094.3,387.6 L1090.1,383.6 L1086,382.5 L1081.9,381.9 L1077.8,384.7 L1073.6,396.3 L1069.5,402.5 L1065.4,414.3 L1061.3,412.3 L1057.1,415 L1053,414.1 L1048.9,424.6 L1044.8,417.4 L1040.6,409 L1036.5,393.7 L1032.4,386.2 L1028.3,384.2 L1024.1,383.7 L1020,375.6 L1015.9,379.5 L1011.8,377.7 L1007.6,377.9 L1003.5,381.3 L999.4,387.9 L995.3,378.9 L991.1,377.8 L987,367.4 L982.9,369 L978.7,361.9 L974.6,358.5 L970.5,352.5 L966.4,347.9 L962.2,352.7 L958.1,358.4 L954,366.3 L949.9,366.7 L945.7,375.6 L941.6,377.5 L937.5,378.9 L933.4,379 L929.2,369.6 L925.1,367.9 L921,361.7 L916.9,360.4 L912.7,363.4 L908.6,359.4 L904.5,353.6 L900.4,349.8 L896.2,350.2 L892.1,351.7 L888,352.1 L883.9,354.5 L879.7,347.6 L875.6,347.5 L871.5,345.4 L867.4,349.3 L863.2,357 L859.1,357.8 L855,346.4 L850.9,350.2 L846.7,355.6 L842.6,361.5 L838.5,367 L834.4,370.3 L830.2,366.2 L826.1,357.1 L822,368.3 L817.9,375.6 L813.7,377.2 L809.6,378.2Z" fill="#c8282d" fill-opacity="0.2" stroke="none"/>
<path d="M809.6,355.8 L813.7,347.7 L817.9,352.4 L822,346.3 L826.1,342.3 L830.3,339.2 L834.4,333.8 L838.5,329.4 L842.6,326.3 L846.8,319.3 L850.9,323 L855,331.8 L859.2,334 L863.3,333.4 L867.4,332.5 L871.6,334.8 L875.7,332.4 L879.8,330.6 L884,338.5 L888.1,328.7 L892.2,323.2 L896.4,318.7 L900.5,319 L904.6,316.9 L908.7,321.4 L912.9,318.2 L917,325.1 L921.1,310.2 L925.3,305 L929.4,313.6 L933.5,313.9 L937.7,306.1 L941.8,295.8 L945.9,293.3 L950.1,293.9 L954.2,291.7 L958.3,288.6 L962.5,279.8 L966.6,267.1 L970.7,270.2 L974.8,264.6 L979,263.1 L983.1,252.6 L987.2,251.1 L991.4,254.3 L995.5,265.8 L999.6,249.7 L1003.8,243.5 L1007.9,238.8 L1012,228.1 L1016.2,221.8 L1020.3,215.1 L1024.4,230.1 L1028.6,220 L1032.7,206.6 L1036.8,181 L1040.9,182.4 L1045.1,162 L1049.2,164.9 L1053.3,171.4 L1057.5,171.1 L1061.6,159.9 L1065.7,157.8 L1069.9,153.2 L1074,161 L1078.1,152.7 L1082.3,138.8 L1086.4,131 L1090.5,125.7 L1094.7,130.3 L1098.8,130.7 L1102.9,122.3 L1107,114.2 L1111.2,134.9 L1115.3,135.9 L1119.4,147.9 L1123.6,143.7 L1127.7,153.2 L1131.8,155.2 L1136,150.4 L1140.1,146.9 L1144.2,153.9 L1148.4,148.8 L1152.5,137.5 L1156.6,129.6 L1160.8,125.2 L1164.9,137.2 L1169,144.7 L1173.1,141.5 L1177.3,131.3 L1181.4,134.6 L1185.5,135.2 L1189.7,137.1 L1193.8,130.9 L1197.9,137.2 L1202.1,132 L1206.2,129.6 L1210.3,117 L1214.5,111.9 L1218.6,112 L1222.7,115.6 L1226.9,130.6 L1231,120.3 L1235.1,130.3 L1239.2,121.1 L1243.4,120.1 L1247.5,122.5 L1251.6,120.1 L1255.8,124.4 L1259.9,125.7 L1264,126.4 L1268.2,115.7 L1272.3,110.7 L1276.4,105.6 L1280.6,82.2 L1284.7,80.3 L1288.8,76.1 L1293,86.4 L1297.1,79.5 L1301.2,83.3 L1305.3,86.8 L1309.5,82.1 L1313.6,76.8 L1317.7,77.6 L1321.9,65 L1326,70.6 L1326,153.2 L1321.9,145.1 L1317.7,154.8 L1313.6,159.7 L1309.5,161.1 L1305.3,169.8 L1301.2,168.4 L1297.1,164.9 L1293,174.7 L1288.8,159.6 L1284.7,167 L1280.6,164.2 L1276.4,173.7 L1272.3,195.5 L1268.2,198.3 L1264,203.5 L1259.9,207.5 L1255.8,203.7 L1251.6,198.7 L1247.5,199 L1243.4,199 L1239.2,201.3 L1235.1,215.1 L1231,205.2 L1226.9,207.4 L1222.7,192.4 L1218.6,186.1 L1214.5,197.2 L1210.3,197 L1206.2,200 L1202.1,212.3 L1197.9,208.9 L1193.8,200.4 L1189.7,210.6 L1185.5,216.7 L1181.4,211 L1177.3,212.4 L1173.1,222.1 L1169,224.6 L1164.9,215.9 L1160.8,200.8 L1156.6,201.4 L1152.5,217.5 L1148.4,225.3 L1144.2,233.8 L1140.1,220.2 L1136,233.3 L1131.8,240.4 L1127.7,236.6 L1123.6,225.3 L1119.4,217.4 L1115.3,210.8 L1111.2,213.7 L1107,193.7 L1102.9,200.1 L1098.8,205.1 L1094.7,198.8 L1090.5,191.3 L1086.4,204.5 L1082.3,217.6 L1078.1,226.1 L1074,238.7 L1069.9,229.2 L1065.7,234.8 L1061.6,233.6 L1057.5,246.3 L1053.3,235.3 L1049.2,234.1 L1045.1,236.9 L1040.9,251.5 L1036.8,256.5 L1032.7,272.7 L1028.6,289 L1024.4,299.1 L1020.3,287.9 L1016.2,287.7 L1012,301 L1007.9,306.7 L1003.8,313.7 L999.6,322.5 L995.5,328.8 L991.4,320 L987.2,316.6 L983.1,322.3 L979,328.1 L974.8,327.2 L970.7,329.4 L966.6,331.3 L962.5,338.6 L958.3,354.7 L954.2,353.5 L950.1,352.4 L945.9,348.9 L941.8,356 L937.7,359.9 L933.5,370.4 L929.4,376.4 L925.3,367.6 L921.1,371 L917,382.3 L912.9,379.3 L908.7,377.5 L904.6,369.1 L900.5,378.4 L896.4,378.5 L892.2,382 L888.1,386.1 L884,389.4 L879.8,387.1 L875.7,387.3 L871.6,390.5 L867.4,389.9 L863.3,381.9 L859.2,391.5 L855,389.3 L850.9,378.6 L846.8,372.2 L842.6,375.5 L838.5,383.9 L834.4,393.3 L830.3,400.8 L826.1,395.1 L822,397.1 L817.9,396.9 L813.7,398.3 L809.6,404.9Z" fill="#85108a" fill-opacity="0.22" stroke="none"/>
<path d="M809.6,351 L813,353 L818.9,346 L825.8,334 L830.4,341 L836,330 L842,319.3 L846.6,315.8 L851.2,324 L854.7,320.4 L860.5,326.2 L866.3,320.4 L872,312.4 L876.7,319.3 L881.3,324 L890,326 L900,330 L911.4,328.5 L918,335 L925.2,349.3 L929.9,335.5 L934.5,326.2 L941.4,319.3 L946,313.5 L953,318 L958.8,330 L963.9,342 L969.2,333.7 L976.3,342.5 L987,353.2 L994,360.2 L1001,365.6 L1008.2,379.7 L1013.5,399.2 L1018.9,417 L1024.2,438.2 L1029.5,448.8 L1033,459.5 L1038.4,450.6 L1043.7,457.7 L1049,456 L1053.6,475.4 L1059.6,477.2 L1065,486 L1072,480.7 L1077.4,482.5 L1082.7,473.6 L1091.6,456 L1098.7,454.1 L1105,446.4 L1113,448.4 L1119,442.4 L1125,440.4 L1133,430.4 L1141,420.4 L1149,414.4 L1157,402.3 L1163,406.3 L1171,408.3 L1177,406.3 L1185,394.3 L1193,378.3 L1199,360.3 L1205,358.3 L1210,374.3 L1215.2,358.3 L1221.2,352.3 L1227.2,354.3 L1233.2,342.2 L1239.2,350.3 L1245.2,324.2 L1251.2,310.2 L1257.2,306.2 L1265.3,308.2 L1271.3,310.2 L1277.3,318.2 L1283.3,310.2 L1289.3,312.2 L1295.3,296.2 L1301.3,312.2 L1307.3,306.2 L1313.3,306.2 L1319.3,303.4 L1325.3,308.2" fill="none" stroke="#7f7a0c" stroke-width="3.8" stroke-linejoin="round" stroke-linecap="butt"/>
<path d="M809.6,369 L815.4,372.5 L823.5,367.8 L828.1,358.6 L832.7,354 L839.7,351.6 L846.6,349.3 L853.6,351.6 L862.8,354 L870.9,348.2 L876.7,332 L881.3,324 L887,315.8 L891.7,324 L899.8,315.8 L905.6,328.5 L911.4,332 L918.3,333.2 L925.2,337.8 L932.2,335.5 L939,337.8 L943.7,332 L949.5,327.4 L955,332 L962,356.7 L969.2,362 L976.3,365.6 L983.4,381.5 L988.7,390.4 L994,394 L1001,402.8 L1008.2,417 L1010,432.9 L1015.3,441.7 L1020.6,456 L1026,463 L1033,473.6 L1040,482.5 L1043.7,493 L1049,496.7 L1054.3,502 L1061.4,496.7 L1068.5,484.3 L1073.8,487.8 L1079.2,494.9 L1084.5,477.2 L1089.8,457.7 L1096.9,452.4 L1104,445.3 L1109.3,448.8 L1113,434.4 L1121,436.4 L1129,414.4 L1135,390.3 L1143,396.3 L1149,390.3 L1157,382.3 L1165,366.3 L1173,386.3 L1179,384.3 L1185,372.3 L1193,370.3 L1199,360.3 L1207.2,352.3 L1213.2,362.3 L1219.2,380.3 L1225.2,374.3 L1231.2,368.3 L1237.2,374.3 L1243.2,380.3 L1249.2,384.3 L1255.2,380.3 L1261.2,372.3 L1267.3,376.3 L1273.3,384.3 L1281.3,380.3 L1289.3,390.3 L1295.3,390.3 L1301.3,384.3 L1307.3,384.3 L1313.3,374.3 L1317.3,378.3 L1321.3,370.3 L1325.3,376.3" fill="none" stroke="#00777a" stroke-width="3.8" stroke-linejoin="round" stroke-linecap="butt"/>
<path d="M809.6,350.5 L813,354 L818.9,347 L825.8,330.8 L830.4,342.4 L836.2,347 L842,330.8 L847.8,329.7 L853.6,321.6 L861.6,329.7 L866.3,327.4 L873.2,320.4 L879,322.8 L884.8,329.7 L890.5,328.5 L896.3,322.8 L902,329.7 L907.9,336.6 L913.7,336.6 L920.6,335.5 L925.2,341.2 L931,344.7 L936.8,354 L941.4,348.2 L948.4,345.9 L954.1,339 L960.3,328.3 L965.6,321.3 L972.7,331.9 L979.8,340.8 L987,346 L992.2,355 L999.3,363.8 L1006.4,355 L1013.5,356.7 L1018.9,351.4 L1024.2,365.6 L1029.5,358.5 L1036.6,376.2 L1043.7,395.7 L1048,404.5 L1052.6,395.7 L1059.6,388.6 L1065,386.8 L1070.3,381.5 L1075.6,370.9 L1082.7,356.7 L1089.8,358.5 L1095,365.6 L1100.4,355 L1105.8,364 L1111,354.3 L1117,358.3 L1123,344.2 L1129,346.3 L1133,340.2 L1139,344.2 L1145,332.2 L1151,324.2 L1157,332.2 L1165,340.2 L1171,338.2 L1177,324.2 L1185,314.2 L1191,326.2 L1199,328.2 L1205,332.2 L1211,316.2 L1215,320.2 L1221.2,304.2 L1227.2,318.2 L1233.2,310.2 L1239.2,308.2 L1245.2,298.2 L1251.2,306.2 L1257.2,304.2 L1263.2,298.2 L1269.3,288.2 L1275.3,274.1 L1281.3,264.1 L1289.3,268.1 L1295.3,258.1 L1301.3,266.1 L1307.3,256.1 L1313.3,246.1 L1317.3,248.1 L1321.3,234 L1325.3,244" fill="none" stroke="#b31e24" stroke-width="3.8" stroke-linejoin="round" stroke-linecap="butt"/>
<path d="M809.6,379.4 L814.2,374.8 L821.2,373.6 L828.1,366.7 L833.9,365.5 L839.7,356.3 L846.6,343.6 L852.4,352.8 L858.2,365.5 L862.8,359.7 L867.4,360.9 L872,363.2 L879,357.4 L883.6,366.7 L890.5,354 L897.5,350.5 L904.4,345.9 L911.4,345.9 L916,356.3 L920.6,340 L926.4,337.8 L931,343.6 L935.6,340 L939,328.5 L943.7,320.4 L949.5,322.8 L955.3,326.2 L959.9,317.4 L966.3,299.6 L972.8,298 L977.7,298 L982.5,288.3 L989,286.7 L995.5,296.4 L1000.3,283.4 L1006.8,278.6 L1011.7,267.2 L1016.5,249.4 L1019.7,252.7 L1024.6,265.6 L1029.5,249.4 L1032.7,241.4 L1036,218.7 L1040.8,215.5 L1045.6,200.9 L1052,202.5 L1057,212.2 L1061.8,194.4 L1066.7,197.7 L1071.5,192.8 L1075.4,199.3 L1081.3,181.5 L1086.1,165.3 L1091,165.3 L1094.2,162 L1099,170.2 L1104,157.2 L1107,155 L1112,175 L1115.2,167 L1120,181.5 L1125,186.3 L1128.1,198.7 L1132.7,201.8 L1138.9,186.3 L1143.5,189.4 L1148.1,191 L1152.8,175.6 L1160.5,166.3 L1165,175.6 L1169.7,183.3 L1175.9,178.6 L1180.5,171 L1186.7,177 L1192.8,166.3 L1197.5,174 L1202,174 L1208.3,163.2 L1214.4,154 L1219,149.4 L1223,152.4 L1226.8,169.4 L1229.8,160.2 L1234.5,172.5 L1239,158.6 L1243.7,158.6 L1248.3,154 L1254.5,161.7 L1259,167.9 L1263.8,167.9 L1268.4,155.5 L1273,152.4 L1277.6,137 L1280.7,121.6 L1285.3,120 L1288.4,115.5 L1293,127.8 L1297.7,123.2 L1302.3,126.3 L1305.4,124.7 L1310,114 L1314.6,117 L1317.7,117 L1322.3,108.7 L1326,114" fill="none" stroke="#7d067e" stroke-width="3.8" stroke-linejoin="round" stroke-linecap="butt"/>
<path d="M1501.8,37 V554.4 H2019.1" fill="none" stroke="#111" stroke-width="2.2"/>
<path d="M1501.8,554.4 h6" stroke="#111" stroke-width="2"/>
<text x="1489.6" y="567.4" text-anchor="end" class="tk">0</text>
<path d="M1501.8,468.2 h6" stroke="#111" stroke-width="2"/>
<text x="1489.6" y="481.2" text-anchor="end" class="tk">2</text>
<path d="M1501.8,381.9 h6" stroke="#111" stroke-width="2"/>
<text x="1489.6" y="394.9" text-anchor="end" class="tk">4</text>
<path d="M1501.8,295.7 h6" stroke="#111" stroke-width="2"/>
<text x="1489.6" y="308.7" text-anchor="end" class="tk">6</text>
<path d="M1501.8,209.5 h6" stroke="#111" stroke-width="2"/>
<text x="1489.6" y="222.5" text-anchor="end" class="tk">8</text>
<path d="M1501.8,123.2 h6" stroke="#111" stroke-width="2"/>
<text x="1489.6" y="136.2" text-anchor="end" class="tk">10</text>
<path d="M1501.8,37 h6" stroke="#111" stroke-width="2"/>
<text x="1489.6" y="50" text-anchor="end" class="tk">12</text>
<path d="M1605.3,554.4 v-6" stroke="#111" stroke-width="2"/>
<text x="1605.3" y="598.6" text-anchor="middle" class="tk">0</text>
<path d="M1812.2,554.4 v-6" stroke="#111" stroke-width="2"/>
<text x="1812.2" y="598.6" text-anchor="middle" class="tk">500</text>
<path d="M2019.1,554.4 v-6" stroke="#111" stroke-width="2"/>
<text x="2019.1" y="598.6" text-anchor="middle" class="tk">1000</text>
<text x="1456.8" y="641.2" class="xl">Time since stimulus presentation (ms)</text>
<path d="M1502,205.6 L1506.1,207.1 L1510.3,205.2 L1514.4,197.1 L1518.5,187 L1522.6,174 L1526.8,174.9 L1530.9,166.3 L1535,161.4 L1539.2,163.6 L1543.3,165.6 L1547.4,169.8 L1551.5,169 L1555.7,170.7 L1559.8,151.9 L1563.9,150.8 L1568,158.8 L1572.2,154.4 L1576.3,158.3 L1580.4,141 L1584.6,151.4 L1588.7,165.4 L1592.8,179.9 L1596.9,179.9 L1601.1,191.5 L1605.2,200.3 L1609.3,207.8 L1613.5,203.3 L1617.6,206.5 L1621.7,226.7 L1625.8,235.5 L1630,236.8 L1634.1,259.1 L1638.2,262.5 L1642.4,303.5 L1646.5,303.3 L1650.6,316.4 L1654.7,326.6 L1658.9,346.5 L1663,357.3 L1667.1,370.3 L1671.2,376.1 L1675.4,380.4 L1679.5,391.1 L1683.6,392.6 L1687.8,402.2 L1691.9,411.3 L1696,416.2 L1700.1,419.4 L1704.3,417.7 L1708.4,418.6 L1712.5,416.5 L1716.7,421.3 L1720.8,415.7 L1724.9,422.9 L1729,431.8 L1733.2,433.3 L1737.3,439.6 L1741.4,435.5 L1745.6,444.7 L1749.7,447.4 L1753.8,451.3 L1757.9,453.7 L1762.1,448.9 L1766.2,446.3 L1770.3,457 L1774.4,462 L1778.6,462.1 L1782.7,464.8 L1786.8,465.1 L1791,461.7 L1795.1,465.9 L1799.2,473.1 L1803.3,472.1 L1807.5,464.3 L1811.6,462.8 L1815.7,459.6 L1819.9,453.1 L1824,452.3 L1828.1,459.7 L1832.2,456.9 L1836.4,454.6 L1840.5,447.9 L1844.6,446.1 L1848.8,441.8 L1852.9,441.7 L1857,437.5 L1861.1,434.2 L1865.3,435.7 L1869.4,430.9 L1873.5,429.8 L1877.6,436.5 L1881.8,433.2 L1885.9,432 L1890,431.7 L1894.2,439.8 L1898.3,440 L1902.4,441.2 L1906.5,428.2 L1910.7,426.9 L1914.8,421.3 L1918.9,406.5 L1923.1,406.5 L1927.2,414.8 L1931.3,410.2 L1935.4,399.3 L1939.6,396.5 L1943.7,393.7 L1947.8,392.6 L1952,396.7 L1956.1,392.8 L1960.2,386.8 L1964.3,381.8 L1968.5,384.3 L1972.6,385.2 L1976.7,372.9 L1980.8,371.8 L1985,376.4 L1989.1,382.4 L1993.2,390.7 L1997.4,389.2 L2001.5,383 L2005.6,389.4 L2009.7,388.1 L2013.9,388.4 L2018,390.7 L2018,437.9 L2013.9,435.7 L2009.7,436.9 L2005.6,434.2 L2001.5,431.7 L1997.4,432.6 L1993.2,431.6 L1989.1,427 L1985,423.9 L1980.8,418.3 L1976.7,418.9 L1972.6,429 L1968.5,428.6 L1964.3,428.5 L1960.2,431.2 L1956.1,434.8 L1952,435.9 L1947.8,435.1 L1943.7,433.4 L1939.6,436.6 L1935.4,439.4 L1931.3,455.8 L1927.2,451.6 L1923.1,447.2 L1918.9,444 L1914.8,460.3 L1910.7,464.5 L1906.5,469.5 L1902.4,479.9 L1898.3,482.5 L1894.2,475.5 L1890,476 L1885.9,473.2 L1881.8,472.5 L1877.6,472.6 L1873.5,472.6 L1869.4,473.3 L1865.3,472 L1861.1,474.6 L1857,476.9 L1852.9,479.4 L1848.8,480.9 L1844.6,479.6 L1840.5,484.9 L1836.4,489.4 L1832.2,495.3 L1828.1,492.3 L1824,492.9 L1819.9,493.4 L1815.7,496.1 L1811.6,499.8 L1807.5,499.6 L1803.3,508.2 L1799.2,511 L1795.1,500 L1791,498.3 L1786.8,501.9 L1782.7,498.4 L1778.6,499.8 L1774.4,497.5 L1770.3,493.9 L1766.2,483.8 L1762.1,492.1 L1757.9,488.8 L1753.8,492 L1749.7,488.3 L1745.6,483.1 L1741.4,476.5 L1737.3,479.3 L1733.2,476.3 L1729,473.5 L1724.9,466.9 L1720.8,459.7 L1716.7,461.9 L1712.5,467.2 L1708.4,459.6 L1704.3,460 L1700.1,459.7 L1696,460.4 L1691.9,451.8 L1687.8,449.2 L1683.6,442.9 L1679.5,437.7 L1675.4,433.4 L1671.2,427.2 L1667.1,427.4 L1663,410.6 L1658.9,403.6 L1654.7,387.8 L1650.6,377.9 L1646.5,357.3 L1642.4,358.2 L1638.2,332.7 L1634.1,322.9 L1630,306.2 L1625.8,301.5 L1621.7,281.7 L1617.6,269.2 L1613.5,266.1 L1609.3,270 L1605.2,261.4 L1601.1,247.7 L1596.9,246.9 L1592.8,242.8 L1588.7,231.2 L1584.6,215.8 L1580.4,214 L1576.3,224.8 L1572.2,221.9 L1568,221.8 L1563.9,218.9 L1559.8,220.9 L1555.7,236 L1551.5,241.9 L1547.4,237.6 L1543.3,235.5 L1539.2,234.6 L1535,226.9 L1530.9,237.3 L1526.8,242 L1522.6,255.2 L1518.5,250.6 L1514.4,270.6 L1510.3,272.2 L1506.1,273.5 L1502,276.3Z" fill="#8a8a10" fill-opacity="0.18" stroke="none"/>
<path d="M1502,152 L1506.1,159.3 L1510.3,175.8 L1514.4,180.6 L1518.5,180.8 L1522.6,181.2 L1526.8,190 L1530.9,191.5 L1535,189.6 L1539.2,164.3 L1543.3,167.2 L1547.4,173.3 L1551.5,173.3 L1555.7,168.3 L1559.8,172.3 L1563.9,183.7 L1568,201.6 L1572.2,203.2 L1576.3,200.6 L1580.4,203.8 L1584.6,202.5 L1588.7,204.1 L1592.8,196.8 L1596.9,180 L1601.1,180.8 L1605.2,187.2 L1609.3,185.8 L1613.5,190.8 L1617.6,200.7 L1621.7,207.1 L1625.8,208.1 L1630,214.4 L1634.1,223.2 L1638.2,231.6 L1642.4,248.1 L1646.5,242.2 L1650.6,243.3 L1654.7,252.2 L1658.9,249.4 L1663,259.2 L1667.1,261.7 L1671.2,282.8 L1675.4,299.6 L1679.5,320.6 L1683.6,328.2 L1687.8,334 L1691.9,340.5 L1696,355.6 L1700.1,359.1 L1704.3,354 L1708.4,356.4 L1712.5,365.2 L1716.7,375.4 L1720.8,378.9 L1724.9,376.2 L1729,393.1 L1733.2,407.1 L1737.3,417.8 L1741.4,427.7 L1745.6,441.2 L1749.7,444.9 L1753.8,451.6 L1757.9,455.7 L1762.1,457.2 L1766.2,463.9 L1770.3,473.9 L1774.4,478.5 L1778.6,478.1 L1782.7,490.6 L1786.8,500.3 L1791,509.1 L1795.1,511.8 L1799.2,499.9 L1803.3,471.9 L1807.5,466.1 L1811.6,461.5 L1815.7,457.5 L1819.9,450.2 L1824,450.8 L1828.1,447.8 L1832.2,445.7 L1836.4,441.6 L1840.5,438.2 L1844.6,434.6 L1848.8,435.6 L1852.9,438.6 L1857,434.7 L1861.1,430.1 L1865.3,425.1 L1869.4,423.2 L1873.5,417.9 L1877.6,410.6 L1881.8,413.3 L1885.9,440.2 L1890,434.4 L1894.2,427.3 L1898.3,423.1 L1902.4,413.7 L1906.5,412.6 L1910.7,406.3 L1914.8,400 L1918.9,399.4 L1923.1,397.8 L1927.2,392 L1931.3,384.3 L1935.4,378.7 L1939.6,382.4 L1943.7,375.7 L1947.8,374.8 L1952,373.1 L1956.1,366.8 L1960.2,364.5 L1964.3,368.6 L1968.5,380.5 L1972.6,387 L1976.7,390.9 L1980.8,395.3 L1985,396.4 L1989.1,397.6 L1993.2,394.4 L1997.4,395.4 L2001.5,400.9 L2005.6,400.7 L2009.7,398.7 L2013.9,397 L2018,407.6 L2018,461.7 L2013.9,444.1 L2009.7,449.5 L2005.6,445.6 L2001.5,448.1 L1997.4,445 L1993.2,441.7 L1989.1,450.9 L1985,445.3 L1980.8,444 L1976.7,436.9 L1972.6,435.7 L1968.5,424.5 L1964.3,414.7 L1960.2,416.3 L1956.1,415 L1952,413.9 L1947.8,419.8 L1943.7,419 L1939.6,428.5 L1935.4,423.3 L1931.3,427.7 L1927.2,436.7 L1923.1,442.9 L1918.9,443.9 L1914.8,446.6 L1910.7,443.7 L1906.5,456.2 L1902.4,458.5 L1898.3,464.2 L1894.2,473.1 L1890,479.4 L1885.9,481.2 L1881.8,455.8 L1877.6,455.8 L1873.5,456.2 L1869.4,464.7 L1865.3,466.9 L1861.1,469.9 L1857,475.2 L1852.9,477.7 L1848.8,472.4 L1844.6,472.5 L1840.5,477.1 L1836.4,478.5 L1832.2,486.7 L1828.1,487.1 L1824,482.8 L1819.9,486.4 L1815.7,490.6 L1811.6,492.8 L1807.5,498.9 L1803.3,505.5 L1799.2,532.7 L1795.1,543 L1791,540.3 L1786.8,536.1 L1782.7,524.7 L1778.6,513.6 L1774.4,507.7 L1770.3,507.1 L1766.2,502.3 L1762.1,491.4 L1757.9,494.1 L1753.8,486.9 L1749.7,481.2 L1745.6,480.9 L1741.4,467.3 L1737.3,455.8 L1733.2,449.2 L1729,437.7 L1724.9,418.3 L1720.8,421.1 L1716.7,417.1 L1712.5,414.2 L1708.4,402.6 L1704.3,405.4 L1700.1,411.2 L1696,404.6 L1691.9,400.3 L1687.8,385.4 L1683.6,381.1 L1679.5,375.1 L1675.4,361.8 L1671.2,337.8 L1667.1,324 L1663,314.7 L1658.9,310.9 L1654.7,307.5 L1650.6,295.8 L1646.5,299.5 L1642.4,309.3 L1638.2,292.1 L1634.1,278.7 L1630,275.5 L1625.8,273.8 L1621.7,263.5 L1617.6,261.4 L1613.5,248.9 L1609.3,243.8 L1605.2,245.8 L1601.1,234.3 L1596.9,237.6 L1592.8,256.3 L1588.7,260.6 L1584.6,264.2 L1580.4,259.9 L1576.3,257.2 L1572.2,268.7 L1568,257.1 L1563.9,248.9 L1559.8,236.2 L1555.7,225.8 L1551.5,235 L1547.4,229.6 L1543.3,233.3 L1539.2,230.3 L1535,248.7 L1530.9,258.9 L1526.8,259.7 L1522.6,243.7 L1518.5,247.1 L1514.4,245.6 L1510.3,235.9 L1506.1,224.7 L1502,219.4Z" fill="#0a8c8c" fill-opacity="0.2" stroke="none"/>
<path d="M1502,213.8 L1506.1,215.9 L1510.3,194.2 L1514.4,191.8 L1518.5,181.4 L1522.6,172.2 L1526.8,164.7 L1530.9,156.6 L1535,143.7 L1539.2,114.4 L1543.3,89.4 L1547.4,86.8 L1551.5,95.8 L1555.7,108.8 L1559.8,124.4 L1563.9,131.5 L1568,136.3 L1572.2,155.1 L1576.3,147.4 L1580.4,147.3 L1584.6,151.1 L1588.7,172 L1592.8,183 L1596.9,185.9 L1601.1,196.4 L1605.2,216.2 L1609.3,234.1 L1613.5,245.6 L1617.6,261.7 L1621.7,276 L1625.8,305.7 L1630,305.6 L1634.1,315.1 L1638.2,323.4 L1642.4,323.8 L1646.5,326.8 L1650.6,335.6 L1654.7,344.5 L1658.9,354.6 L1663,367.3 L1667.1,371.8 L1671.2,377.4 L1675.4,387.3 L1679.5,392.2 L1683.6,397.5 L1687.8,403.7 L1691.9,404.2 L1696,408.2 L1700.1,423.1 L1704.3,424 L1708.4,428.3 L1712.5,432.3 L1716.7,435 L1720.8,438.6 L1724.9,438.5 L1729,437.8 L1733.2,430.6 L1737.3,417.2 L1741.4,414.7 L1745.6,418.4 L1749.7,419.1 L1753.8,424 L1757.9,422.6 L1762.1,418.2 L1766.2,420.8 L1770.3,418.7 L1774.4,431 L1778.6,430.7 L1782.7,426.7 L1786.8,422.8 L1791,425.4 L1795.1,420.5 L1799.2,424.7 L1803.3,417.8 L1807.5,416.3 L1811.6,421 L1815.7,423 L1819.9,419.2 L1824,421.3 L1828.1,420.4 L1832.2,413.7 L1836.4,406.5 L1840.5,403.4 L1844.6,404.9 L1848.8,404.6 L1852.9,398.9 L1857,387.2 L1861.1,384.1 L1865.3,376.4 L1869.4,378.3 L1873.5,376.7 L1877.6,369.9 L1881.8,369.4 L1885.9,366.8 L1890,363.6 L1894.2,367.8 L1898.3,374.5 L1902.4,365.6 L1906.5,371.5 L1910.7,379.3 L1914.8,380.7 L1918.9,394 L1923.1,394.2 L1927.2,399 L1931.3,392.8 L1935.4,387.7 L1939.6,385.9 L1943.7,386.9 L1947.8,389.7 L1952,389.3 L1956.1,398.3 L1960.2,397.6 L1964.3,401 L1968.5,418.8 L1972.6,421.1 L1976.7,425.2 L1980.8,433.2 L1985,440.1 L1989.1,446.4 L1993.2,449.4 L1997.4,444.1 L2001.5,441.3 L2005.6,443.1 L2009.7,436.7 L2013.9,437.4 L2018,434.4 L2018,490.3 L2013.9,487.4 L2009.7,487.9 L2005.6,491.7 L2001.5,494.8 L1997.4,500.3 L1993.2,499.8 L1989.1,502.2 L1985,494.3 L1980.8,484.5 L1976.7,480.9 L1972.6,479 L1968.5,468.4 L1964.3,461.3 L1960.2,456.2 L1956.1,451.8 L1952,442 L1947.8,439.7 L1943.7,441.2 L1939.6,441.4 L1935.4,443.9 L1931.3,442.9 L1927.2,447.1 L1923.1,442.8 L1918.9,445.9 L1914.8,434.7 L1910.7,425.4 L1906.5,426.5 L1902.4,419.6 L1898.3,427 L1894.2,419.7 L1890,420.9 L1885.9,413.7 L1881.8,423 L1877.6,425.5 L1873.5,429.2 L1869.4,432.4 L1865.3,432 L1861.1,437.3 L1857,445.4 L1852.9,450.7 L1848.8,453.2 L1844.6,456.5 L1840.5,455.1 L1836.4,458.3 L1832.2,469.3 L1828.1,472.1 L1824,478.4 L1819.9,473.3 L1815.7,472 L1811.6,469.2 L1807.5,467.6 L1803.3,466.8 L1799.2,471.8 L1795.1,471.6 L1791,476.2 L1786.8,474.7 L1782.7,479.5 L1778.6,479.7 L1774.4,475.9 L1770.3,470.5 L1766.2,467.8 L1762.1,473.1 L1757.9,475.5 L1753.8,476.3 L1749.7,476.8 L1745.6,466.3 L1741.4,463.5 L1737.3,474 L1733.2,478.3 L1729,488.8 L1724.9,491.3 L1720.8,491.2 L1716.7,487.1 L1712.5,482.6 L1708.4,482.9 L1704.3,481.9 L1700.1,475.3 L1696,462.1 L1691.9,456.8 L1687.8,455.9 L1683.6,452.2 L1679.5,445.7 L1675.4,438.5 L1671.2,432.1 L1667.1,425.6 L1663,422.3 L1658.9,419.4 L1654.7,401.6 L1650.6,394 L1646.5,387.2 L1642.4,391.5 L1638.2,385.1 L1634.1,371.1 L1630,370.3 L1625.8,365.7 L1621.7,343.7 L1617.6,322.5 L1613.5,310.6 L1609.3,292.7 L1605.2,281.9 L1601.1,266.2 L1596.9,256 L1592.8,253.3 L1588.7,240.3 L1584.6,234 L1580.4,224.2 L1576.3,221.7 L1572.2,224.4 L1568,208 L1563.9,208.5 L1559.8,202.6 L1555.7,187.9 L1551.5,190.7 L1547.4,176.2 L1543.3,171.3 L1539.2,209.5 L1535,227.9 L1530.9,236.1 L1526.8,243.2 L1522.6,252.6 L1518.5,254.6 L1514.4,270.9 L1510.3,278.6 L1506.1,284.4 L1502,284.6Z" fill="#c8282d" fill-opacity="0.2" stroke="none"/>
<path d="M1502,169.9 L1506.1,156 L1510.3,153.2 L1514.4,155.8 L1518.5,156.1 L1522.6,144.9 L1526.8,134.7 L1530.9,137.4 L1535,130.9 L1539.2,132.7 L1543.3,127.9 L1547.4,129.6 L1551.5,122.3 L1555.7,124.9 L1559.8,123.3 L1563.9,128.2 L1568,143.2 L1572.2,146.7 L1576.3,131.1 L1580.4,124.3 L1584.6,129.3 L1588.7,153.6 L1592.8,155.6 L1596.9,163.1 L1601.1,170.2 L1605.2,185 L1609.3,194.9 L1613.5,191.9 L1617.6,199.1 L1621.7,210 L1625.8,207.9 L1630,224.5 L1634.1,233 L1638.2,245.7 L1642.4,265.2 L1646.5,284.7 L1650.6,300.9 L1654.7,309.3 L1658.9,338.7 L1663,359 L1667.1,353 L1671.2,353.1 L1675.4,348 L1679.5,354.1 L1683.6,365.2 L1687.8,367.9 L1691.9,378.8 L1696,381.3 L1700.1,373.3 L1704.3,366.6 L1708.4,361.2 L1712.5,355.9 L1716.7,363.8 L1720.8,367.5 L1724.9,366.7 L1729,363.4 L1733.2,367 L1737.3,364.4 L1741.4,352.7 L1745.6,353.5 L1749.7,352.1 L1753.8,362.6 L1757.9,359.6 L1762.1,359.2 L1766.2,355.3 L1770.3,344.3 L1774.4,339.1 L1778.6,345.4 L1782.7,364.8 L1786.8,377.5 L1791,386.2 L1795.1,369 L1799.2,364.5 L1803.3,358.7 L1807.5,347.3 L1811.6,358.1 L1815.7,337.1 L1819.9,333.8 L1824,330.9 L1828.1,327.8 L1832.2,331.3 L1836.4,320.2 L1840.5,311.4 L1844.6,302.9 L1848.8,281.8 L1852.9,293.3 L1857,302.3 L1861.1,270.7 L1865.3,267.5 L1869.4,263.2 L1873.5,250.8 L1877.6,259.6 L1881.8,266.6 L1885.9,268.9 L1890,250.2 L1894.2,264 L1898.3,278 L1902.4,280.9 L1906.5,289.8 L1910.7,294.9 L1914.8,294.2 L1918.9,295.2 L1923.1,293.2 L1927.2,295 L1931.3,306.7 L1935.4,315.2 L1939.6,330.5 L1943.7,346.5 L1947.8,351.2 L1952,347.5 L1956.1,337.1 L1960.2,328.2 L1964.3,331.5 L1968.5,332.2 L1972.6,345.1 L1976.7,352.9 L1980.8,356.2 L1985,351.7 L1989.1,350.9 L1993.2,360.5 L1997.4,364.1 L2001.5,349.9 L2005.6,359.5 L2009.7,354 L2013.9,348 L2018,346.8 L2018,411.2 L2013.9,416.4 L2009.7,422.9 L2005.6,431.1 L2001.5,424.5 L1997.4,435.8 L1993.2,429.4 L1989.1,422.6 L1985,426.8 L1980.8,421.2 L1976.7,414 L1972.6,409.9 L1968.5,401.1 L1964.3,399.6 L1960.2,397.2 L1956.1,401.2 L1952,410 L1947.8,419 L1943.7,415 L1939.6,395.3 L1935.4,395.7 L1931.3,379.4 L1927.2,373.9 L1923.1,365.8 L1918.9,363.9 L1914.8,372.9 L1910.7,384 L1906.5,374.1 L1902.4,369.2 L1898.3,365.7 L1894.2,357.5 L1890,342.9 L1885.9,358.1 L1881.8,362.8 L1877.6,368.5 L1873.5,348 L1869.4,361.3 L1865.3,358.4 L1861.1,365.5 L1857,387.3 L1852.9,379 L1848.8,379.3 L1844.6,398.3 L1840.5,403.4 L1836.4,401.4 L1832.2,405.9 L1828.1,409.4 L1824,417.2 L1819.9,415.2 L1815.7,412.7 L1811.6,433.2 L1807.5,435.5 L1803.3,437.7 L1799.2,442.1 L1795.1,439.2 L1791,461.7 L1786.8,446.7 L1782.7,439.8 L1778.6,424.9 L1774.4,406.7 L1770.3,416.1 L1766.2,432.5 L1762.1,426 L1757.9,426 L1753.8,428.2 L1749.7,428.6 L1745.6,423 L1741.4,432.1 L1737.3,431.9 L1733.2,429.4 L1729,429.9 L1724.9,433.5 L1720.8,437.3 L1716.7,434.2 L1712.5,417 L1708.4,423.4 L1704.3,430 L1700.1,435.7 L1696,448.1 L1691.9,452.1 L1687.8,431.5 L1683.6,425.5 L1679.5,424.9 L1675.4,421.4 L1671.2,414.2 L1667.1,415.6 L1663,429.8 L1658.9,401.5 L1654.7,369.3 L1650.6,361.8 L1646.5,352.3 L1642.4,329.4 L1638.2,308.4 L1634.1,302.7 L1630,295.2 L1625.8,283.8 L1621.7,275.4 L1617.6,284.2 L1613.5,274.4 L1609.3,274 L1605.2,262.5 L1601.1,253.3 L1596.9,248.6 L1592.8,246 L1588.7,245.5 L1584.6,221.4 L1580.4,214.8 L1576.3,215 L1572.2,235 L1568,229.1 L1563.9,213.9 L1559.8,212.6 L1555.7,218.3 L1551.5,210 L1547.4,213 L1543.3,213.3 L1539.2,208.1 L1535,209.9 L1530.9,209.1 L1526.8,209.9 L1522.6,216.1 L1518.5,231.1 L1514.4,222.5 L1510.3,230.3 L1506.1,233 L1502,238.9Z" fill="#85108a" fill-opacity="0.22" stroke="none"/>
<path d="M1502,247.2 L1509.2,240.1 L1514.5,233 L1519.8,218.8 L1525.2,208.2 L1530.5,202.9 L1537.6,194 L1544.7,201.1 L1551.8,210 L1557,201.1 L1560.6,183.4 L1566,188.7 L1571.3,190.5 L1576.6,190.5 L1581.9,172.8 L1587.2,194 L1592.6,211.7 L1599.6,218.8 L1605,231.2 L1608.5,238.3 L1613.8,233 L1619.2,245.4 L1624.5,264.9 L1629.8,275.5 L1635,290 L1640.2,308 L1642.5,332.7 L1647,328.2 L1651.4,346 L1658.1,375.1 L1667,397.5 L1673.8,404.2 L1680.5,415.3 L1689.4,428.7 L1698.3,440 L1707.3,437.7 L1714,442.1 L1720.7,437.7 L1727.4,453.3 L1734.1,455.5 L1743,460 L1749.8,469 L1754.2,473.4 L1761,471.2 L1767.6,466.7 L1772.1,480 L1781,482.4 L1786.2,482.2 L1790.4,478 L1796.6,486.3 L1800.8,496.7 L1805,486.3 L1813.3,480 L1821.6,473.8 L1830,478 L1838.2,469.7 L1846.6,459.3 L1854.9,459.3 L1863.2,453 L1873.6,453 L1884,455.1 L1892.3,455.1 L1900.6,463.4 L1906.9,448.9 L1913.1,444.7 L1919.4,423.9 L1925.6,432.2 L1929.8,440.5 L1936,417.7 L1944.3,413.5 L1950.5,417.7 L1958.9,411.4 L1965.1,403.1 L1971.3,407.3 L1977.6,394.8 L1983.8,394.8 L1990,407.3 L1996.3,411.4 L2002.5,407.3 L2008.8,415.6 L2015,411.4 L2018,414" fill="none" stroke="#7f7a0c" stroke-width="3.8" stroke-linejoin="round" stroke-linecap="butt"/>
<path d="M1502,183.4 L1507.4,194 L1512.7,211.7 L1518,215.3 L1523.4,210 L1527,225.9 L1534,225.9 L1539.3,199.3 L1544.7,202.9 L1548.2,199.3 L1551.8,204.7 L1557,195.8 L1560.6,204.7 L1566,224.1 L1571.3,233 L1576.6,229.5 L1581.9,233 L1587.2,229.5 L1590.8,236.6 L1596,211.7 L1601.4,206.4 L1606.7,218.8 L1612,211.7 L1617.4,229.5 L1622.7,236.6 L1628,243.6 L1633.3,247.2 L1638.7,259.6 L1642.5,279 L1649.2,272.3 L1655.9,281.3 L1660.3,279 L1667,294.7 L1673.8,321.5 L1680.5,352.8 L1687.2,357.2 L1693.9,377.3 L1700.6,384 L1707.3,377.3 L1711.8,384 L1718.5,404.2 L1725.2,397.5 L1731.9,426.5 L1738.6,440 L1745.3,460 L1752,464.5 L1756.5,473.4 L1761,473.4 L1767.6,484.6 L1774.3,493.5 L1778.8,495.8 L1783.3,509 L1787,518 L1790.4,525.8 L1794.6,527.9 L1798.7,519.6 L1802.9,488.4 L1811.2,478 L1819.5,469.7 L1832,467.6 L1842.4,453 L1848.6,455.1 L1854.9,461.3 L1859,448.9 L1869.4,444.7 L1875.7,434.3 L1882,434.3 L1886,461.3 L1892.3,455.1 L1898.6,440.5 L1906.9,434.3 L1913.1,421.8 L1921.4,421.8 L1927.7,413.5 L1936,399 L1940.2,405.2 L1946.4,394.8 L1954.7,392.7 L1963,388.6 L1971.3,407.3 L1979.7,417.7 L1988,423.9 L1994.2,417.7 L2000.5,426 L2006.7,423.9 L2013,417.7 L2018,432.2" fill="none" stroke="#00777a" stroke-width="3.8" stroke-linejoin="round" stroke-linecap="butt"/>
<path d="M1502,250.7 L1505.6,254.3 L1511,234.8 L1516.3,224.1 L1523.4,211.7 L1530.5,197.6 L1535.8,183.4 L1539.3,162.1 L1542.9,123.2 L1546.4,132 L1550,146.2 L1553.5,146.2 L1557,151.5 L1558.9,162.1 L1562.4,176.3 L1567.7,176.3 L1571.3,188.7 L1576.6,183.4 L1580.1,183.4 L1583.7,192.3 L1587.2,204.7 L1590.8,211.7 L1596,218.8 L1599.6,229.5 L1603.2,241.9 L1606.7,252 L1610,267.9 L1615.6,281.3 L1620.1,294.7 L1624.6,337.1 L1631.3,339.4 L1638,352.8 L1644.7,359.5 L1651.4,364 L1655.9,379.6 L1662.6,393 L1667,399.7 L1673.8,408.6 L1680.5,422 L1687.2,431 L1693.9,431 L1700.6,448.8 L1707.3,457.8 L1714,460 L1720.7,464.5 L1727.4,464.5 L1734.1,455.5 L1740.8,437.7 L1747.5,444.4 L1754.2,451 L1761,442.1 L1767.6,446.6 L1774.3,451 L1781,455.5 L1786.2,448.9 L1792.5,446.8 L1798.7,451 L1805,440.5 L1811.2,448.9 L1817.4,446.8 L1823.7,453 L1832,440.5 L1840.3,428 L1846.6,430.2 L1854.9,424 L1861.1,409.4 L1869.4,403.1 L1877.8,399 L1884,392.7 L1892.3,392.7 L1898.6,401 L1904.8,392.7 L1913.1,407.3 L1919.4,419.8 L1929.8,421.8 L1938,411.4 L1944.3,417.7 L1950.5,415.6 L1958.9,426 L1965.1,436.4 L1971.3,451 L1979.7,453 L1988,473.8 L1994.2,473.8 L2000.5,469.7 L2006.7,465.5 L2013,459.3 L2018,461.3" fill="none" stroke="#b31e24" stroke-width="3.8" stroke-linejoin="round" stroke-linecap="butt"/>
<path d="M1502,204.7 L1507.4,197.6 L1512.7,187 L1518,192.3 L1525.2,172.8 L1530.5,176.3 L1534,171 L1541.1,171 L1551.8,171 L1557,174.5 L1560.6,165.7 L1566,178 L1569.5,183.4 L1572.3,192.3 L1576.6,172.8 L1581.9,165.7 L1585.5,176.3 L1589,197.6 L1592.6,202.9 L1599.6,202.9 L1603.2,227.7 L1608.5,227.7 L1613.8,236.6 L1619.2,243.6 L1624.5,245.4 L1629.8,257.8 L1635.1,268.4 L1640.2,285.7 L1644.7,312.6 L1649.2,328.2 L1653.6,332.7 L1658.1,361.7 L1662.6,393 L1669.3,384 L1676,384 L1680.5,388.5 L1687.2,402 L1691.6,415.3 L1698.3,410.9 L1705,404.2 L1711.8,384 L1718.5,404.2 L1725.2,397.5 L1731.9,395.2 L1738.6,397.5 L1745.3,384 L1752,397.5 L1758.7,390.8 L1765.4,395.2 L1774.3,370.6 L1780,390.6 L1784.2,403.1 L1790.4,426 L1796.6,407.3 L1805,394.8 L1811.2,396.9 L1817.4,374 L1825.8,369.8 L1832,363.6 L1838.2,359.4 L1842.4,351.1 L1848.6,328.2 L1857,342.8 L1861.1,313.7 L1867.4,311.6 L1873.6,301.2 L1879.8,315.8 L1884,315.8 L1890.2,297 L1898.6,322 L1906.9,332.4 L1915.2,332.4 L1919.4,328.2 L1925.6,334.5 L1933.9,351.1 L1940.2,361.5 L1944.3,384.4 L1950.5,384.4 L1956.8,365.7 L1963,367.8 L1969.3,365.7 L1973.4,384.4 L1983.8,384.4 L1990,390.6 L1996.3,401 L2002.5,386.5 L2006.7,396.9 L2013,380.2 L2018,380.2" fill="none" stroke="#7d067e" stroke-width="3.8" stroke-linejoin="round" stroke-linecap="butt"/>
<text transform="translate(52.4,412) rotate(-90)" class="yl">Firing rate (Hz)</text>
<text x="0" y="39.2" class="pl">A</text>
<text x="703.6" y="39.2" class="pl">B</text>
<text x="1391" y="39.2" class="pl">C</text>
<path d="M312,71.8 h69.2" stroke="#7f7a0c" stroke-width="3.5"/>
<text x="388.5" y="78.6" class="lg">Value 1</text>
<path d="M312,96.2 h69.2" stroke="#00777a" stroke-width="3.5"/>
<text x="388.5" y="103" class="lg">Value 2</text>
<path d="M469.4,71.8 h69.2" stroke="#b31e24" stroke-width="3.5"/>
<text x="545.9" y="78.6" class="lg">Value 3</text>
<path d="M469.4,96.2 h69.2" stroke="#7d067e" stroke-width="3.5"/>
<text x="545.9" y="103" class="lg">Value 4</text>
</svg>
</body></html>
